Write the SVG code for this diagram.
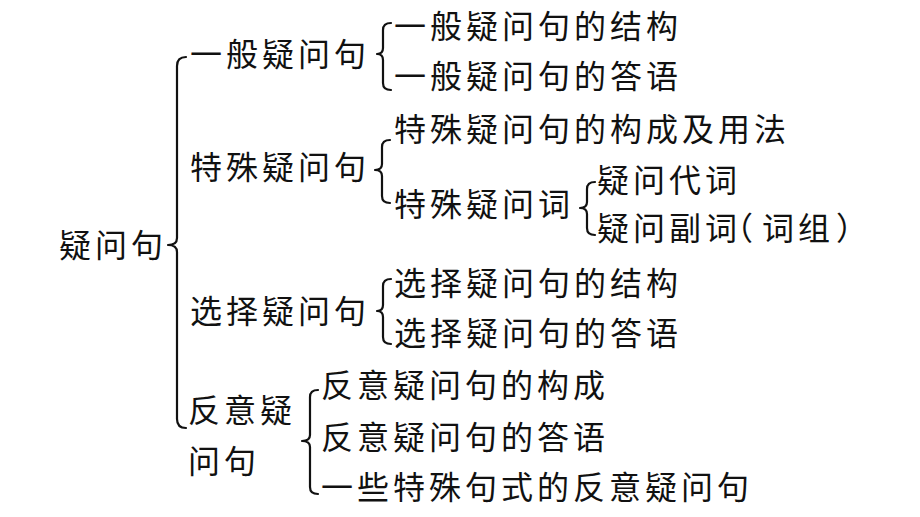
<svg xmlns="http://www.w3.org/2000/svg" width="920" height="517" viewBox="0 0 920 517">
<style>
text{font-family:"Noto Sans CJK SC","Noto Sans CJK JP",sans-serif;font-size:32px;letter-spacing:4px;fill:#111;}
.br{fill:none;stroke:#111;stroke-width:2.2;stroke-linecap:round;stroke-linejoin:round;}
</style>
<rect width="920" height="517" fill="#fff"/>
<g id="connectors">
<path class="br" d="M186,57 Q177,57 177,66 L177,238 Q177,245 168,245 Q177,245 177,252 L177,419 Q177,428 186,428"/>
<path class="br" d="M391,23 Q383,23 383,30 L383,48 Q383,54 377,54 Q383,54 383,60 L383,83 Q383,90 391,90"/>
<path class="br" d="M390,140 Q382,140 382,147 L382,164 Q382,170 375,170 Q382,170 382,176 L382,196 Q382,203 390,203"/>
<path class="br" d="M595,182 Q587,182 587,189 L587,202 Q587,208 580,208 Q587,208 587,214 L587,228 Q587,235 595,235"/>
<path class="br" d="M391,279 Q383,279 383,286 L383,305 Q383,311 377,311 Q383,311 383,317 L383,337 Q383,344 391,344"/>
<path class="br" d="M318,390 Q310,390 310,397 L310,435 Q310,441 302,441 Q310,441 310,447 L310,487 Q310,494 318,494"/>
</g>
<g id="root"><text x="59" y="257">疑问句</text></g>
<g id="n-general"><text x="190" y="66">一般疑问句</text></g>
<g id="n-special"><text x="190" y="179">特殊疑问句</text></g>
<g id="n-choice"><text x="190" y="323">选择疑问句</text></g>
<g id="n-tag"><text x="188" y="422">反意疑</text><text x="188" y="473">问句</text></g>
<g id="n-general-1"><text x="394" y="38">一般疑问句的结构</text></g>
<g id="n-general-2"><text x="394" y="88">一般疑问句的答语</text></g>
<g id="n-special-1"><text x="394" y="141">特殊疑问句的构成及用法</text></g>
<g id="n-special-2"><text x="394" y="216">特殊疑问词</text></g>
<g id="n-word-1"><text x="597" y="192">疑问代词</text></g>
<g id="n-word-2"><text x="597" y="240">疑问副词<tspan dx="-20">（</tspan><tspan dx="5">词组</tspan><tspan dx="2">）</tspan></text></g>
<g id="n-choice-1"><text x="394" y="295">选择疑问句的结构</text></g>
<g id="n-choice-2"><text x="394" y="345">选择疑问句的答语</text></g>
<g id="n-tag-1"><text x="321" y="397">反意疑问句的构成</text></g>
<g id="n-tag-2"><text x="321" y="449">反意疑问句的答语</text></g>
<g id="n-tag-3"><text x="321" y="499">一些特殊句式的反意疑问句</text></g>
</svg>
